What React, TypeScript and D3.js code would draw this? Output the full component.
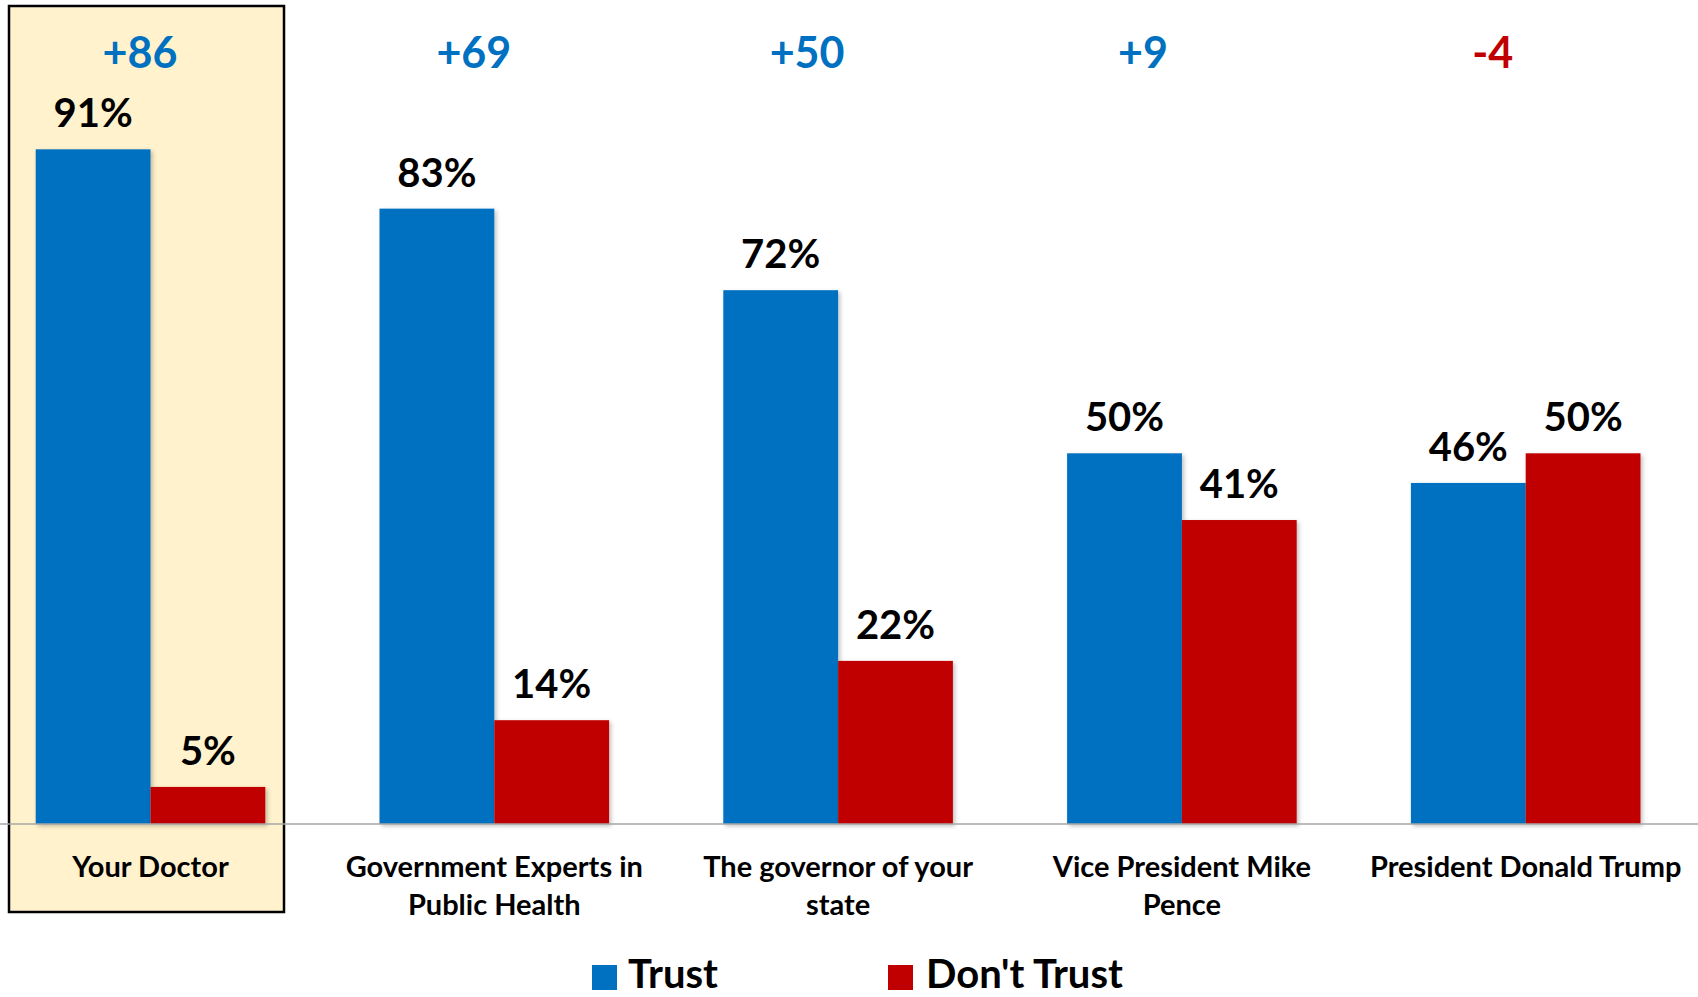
import React from "react";
import * as d3 from "d3";

const categories = [
  "Your Doctor",
  "Government Experts in Public Health",
  "The governor of your state",
  "Vice President Mike Pence",
  "President Donald Trump",
];
const categoryLines = [
  ["Your Doctor"],
  ["Government Experts in", "Public Health"],
  ["The governor of your", "state"],
  ["Vice President Mike", "Pence"],
  ["President Donald Trump"],
];
const seriesNames = ["Trust", "Don't Trust"];
const trustValues = [91, 83, 72, 50, 46];
const dontTrustValues = [5, 14, 22, 41, 50];

// layout tweaks (label nudges, in px) – not data
const diffLabelDx = [-10.5, -20.5, -31, -39, -33];

const W = 1698;
const H = 997;
const BLUE = "#0070C0";
const RED = "#C00000";
const FONT = "Lato, 'Open Sans', sans-serif";

export default function App() {
  const baseY = 824;
  const y = d3.scaleLinear().domain([0, 100]).range([baseY, baseY - 741.4]);
  const x0 = d3
    .scaleBand<string>()
    .domain(categories)
    .range([-21.4, 1697.6])
    .paddingInner(0)
    .paddingOuter(0);
  const x1 = d3
    .scaleBand<string>()
    .domain(seriesNames)
    .range([0, x0.bandwidth()])
    .paddingInner(0)
    .paddingOuter(0.4975);
  const colors = d3.scaleOrdinal<string, string>().domain(seriesNames).range([BLUE, RED]);
  const valuesBySeries: Record<string, number[]> = {
    Trust: trustValues,
    "Don't Trust": dontTrustValues,
  };

  const diffs = trustValues.map((t, i) => t - dontTrustValues[i]);

  return (
    <svg
      width={W}
      height={H}
      style={{ position: "absolute", left: 0, top: 0, display: "block", background: "#fff" }}
      fontFamily={FONT}
    >
      <defs>
        <filter id="shadow" x="-10%" y="-10%" width="130%" height="130%">
          <feDropShadow dx="2" dy="2" stdDeviation="2" floodColor="#000" floodOpacity="0.25" />
        </filter>
      </defs>

      {/* highlight box */}
      <rect x={9} y={6} width={275} height={906} fill="#FFF2CC" stroke="#000" strokeWidth={2.5} />

      {/* bars */}
      {categories.map((c, i) => (
        <g key={c} transform={`translate(${x0(c)},0)`}>
          {seriesNames.map((s) => {
            const v = valuesBySeries[s][i];
            return (
              <rect
                key={s}
                x={x1(s)}
                y={y(v)}
                width={x1.bandwidth()}
                height={baseY - y(v)}
                fill={colors(s)}
                filter="url(#shadow)"
              />
            );
          })}
          {seriesNames.map((s) => {
            const v = valuesBySeries[s][i];
            return (
              <text
                key={s + "l"}
                x={(x1(s) as number) + x1.bandwidth() / 2}
                y={y(v) - 22}
                textAnchor="middle"
                fontSize={40}
                fontWeight={700}
                fill="#000"
              >
                {v}%
              </text>
            );
          })}
        </g>
      ))}

      {/* baseline */}
      <line x1={0} x2={W} y1={baseY} y2={baseY} stroke="#A6A6A6" strokeWidth={1.5} />

      {/* difference labels */}
      {categories.map((c, i) => (
        <text
          key={c + "d"}
          x={(x0(c) as number) + x0.bandwidth() / 2 + diffLabelDx[i]}
          y={68}
          textAnchor="middle"
          fontSize={43}
          fontWeight={700}
          fill={diffs[i] >= 0 ? BLUE : RED}
        >
          {diffs[i] >= 0 ? `+${diffs[i]}` : `${diffs[i]}`}
        </text>
      ))}

      {/* category labels */}
      {categories.map((c, i) => (
        <text
          key={c + "c"}
          x={(x0(c) as number) + x0.bandwidth() / 2}
          y={877}
          textAnchor="middle"
          fontSize={29}
          fontWeight={700}
          fill="#000"
        >
          {categoryLines[i].map((ln, j) => (
            <tspan key={j} x={(x0(c) as number) + x0.bandwidth() / 2} dy={j === 0 ? 0 : 38}>
              {ln}
            </tspan>
          ))}
        </text>
      ))}

      {/* legend */}
      <g>
        <rect x={592} y={965} width={25} height={25} fill={BLUE} />
        <text x={628} y={988} fontSize={40} fontWeight={700} fill="#000">
          {seriesNames[0]}
        </text>
        <rect x={888} y={965} width={25} height={25} fill={RED} />
        <text x={926} y={988} fontSize={40} fontWeight={700} fill="#000">
          {seriesNames[1]}
        </text>
      </g>
    </svg>
  );
}
